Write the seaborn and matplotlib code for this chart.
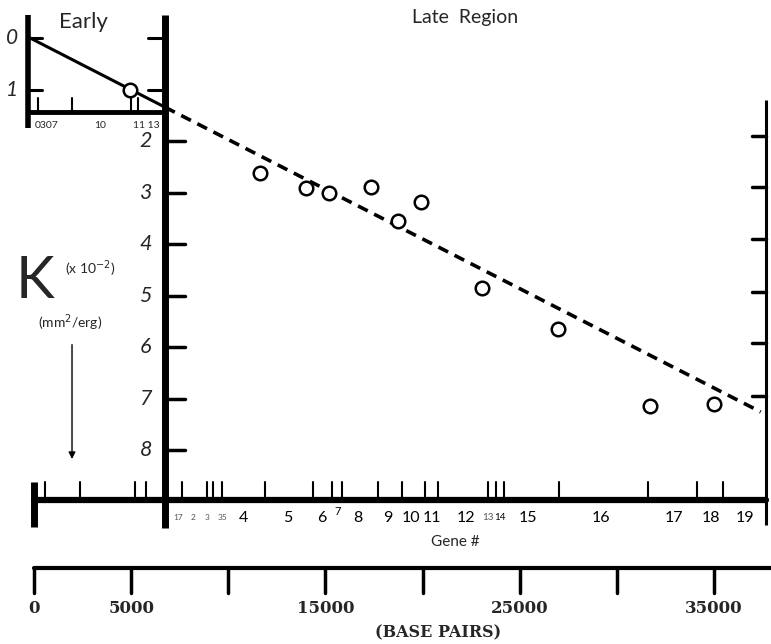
import numpy as np
import pandas as pd
import matplotlib
matplotlib.use("Agg")
import matplotlib.pyplot as plt
import seaborn as sns

sns.set_style("white")
plt.rcParams['font.family'] = ['Lato', 'DejaVu Sans']

# --- data (x in base pairs, y in K x 10^-2) ---
early_bp = [4940]
early_k = [1.0]
late_bp = [11630, 14000, 15180, 17340, 18730, 19920, 23060, 26970, 31700, 35000]
late_k = [2.62, 2.91, 3.01, 2.89, 3.55, 3.18, 4.85, 5.65, 7.15, 7.11]

# fitted line: solid through early region, dashed through late region
fit_early_bp = [-200, 6750]
fit_early_k = [0.0, 1.345]
fit_late_bp = [6750, 37400]
fit_late_k = [1.345, 7.26]

# gene map
gene_tick_bp = [566, 2367, 5198, 5764, 7617, 8904, 9213, 9676, 11889, 14359,
                15337, 15852, 17705, 18940, 20123, 20792, 23366, 23777, 24189,
                27020, 31600, 34122, 35461]
gene_labels = ['17', '2', '3', '35', '4', '5', '6', '7', '8', '9', '10', '11',
               '12', '13', '14', '15', '16', '17', '18', '19']
gene_label_bp = [7411, 8183, 8904, 9727, 10757, 13073, 14822, 15646, 16675,
                 18219, 19403, 20484, 22234, 23366, 23984, 25425, 29182,
                 32939, 34843, 36593]
# printed size of each gene label (the crowded ones are tiny in the original)
gene_label_size = [6, 6, 6, 6, 11.5, 11.5, 11.5, 8, 11.5, 11.5, 11.5, 11.5,
                   11.5, 7, 7, 11.5, 11.5, 11.5, 11.5, 11.5]

early_gene_tick_bp = [206, 1956, 4992, 5352]
early_gene_labels = ['0307', '10', '11 13']
early_gene_label_bp = [670, 3397, 5764]

main_k_ticks = [2, 3, 4, 5, 6, 7, 8]
early_k_ticks = [0, 1]
right_k_ticks = [1.9, 2.9, 3.9, 4.93, 5.92, 6.95]

bp_ticks = [0, 5000, 10000, 15000, 20000, 25000, 30000, 35000]
bp_labels = ['0', '5000', '', '15000', '', '25000', '', '35000']

# frame positions (data coordinates)
MAIN_X = 6750
EARLY_X = -300
RIGHT_X = 37670
BOX_BOTTOM = 1.437
GENE_Y = 8.97
BP_Y = 10.29

fig = plt.figure(figsize=(7.71, 6.44), dpi=100)
ax = fig.add_axes([0, 0, 1, 1])
ax.set_xlim(-1750, 37930)
ax.set_ylim(11.767, -0.738)
ax.axis('off')

k = 'black'

# main vertical axis and the early box
ax.plot([MAIN_X, MAIN_X], [-0.45, 9.52], color=k, lw=5, solid_capstyle='butt')
ax.plot([EARLY_X, EARLY_X], [-0.45, 1.75], color=k, lw=4, solid_capstyle='butt')
ax.plot([EARLY_X, MAIN_X], [BOX_BOTTOM, BOX_BOTTOM], color=k, lw=3.5)
for t in early_k_ticks:
    ax.plot([EARLY_X, 420], [t, t], color=k, lw=2.2)
    ax.plot([5870, MAIN_X], [t, t], color=k, lw=2.2)
    ax.text(-1150, t, str(t), ha='center', va='center', fontsize=15,
            style='italic')
for b in early_gene_tick_bp:
    ax.plot([b, b], [BOX_BOTTOM, 1.165], color=k, lw=1.5)
for b, lab in zip(early_gene_label_bp, early_gene_labels):
    ax.text(b, 1.7, lab, ha='center', va='center', fontsize=7.5)

# main K ticks
for t in main_k_ticks:
    ax.plot([MAIN_X, 7770], [t, t], color=k, lw=2.5)
    ax.text(5750, t, str(t), ha='center', va='center', fontsize=15.5,
            style='italic')

# right axis
ax.plot([RIGHT_X, RIGHT_X], [1.2, 9.46], color=k, lw=2.2, solid_capstyle='butt')
for t in right_k_ticks:
    ax.plot([36950, RIGHT_X], [t, t], color=k, lw=2.5)

# gene axis
ax.plot([0, RIGHT_X], [GENE_Y, GENE_Y], color=k, lw=4.5)
ax.plot([0, 0], [8.62, 9.5], color=k, lw=5, solid_capstyle='butt')
for b in gene_tick_bp:
    ax.plot([b, b], [GENE_Y, 8.62], color=k, lw=1.5)
for b, lab, fs in zip(gene_label_bp, gene_labels, gene_label_size):
    y = 9.2 if lab == '7' else 9.32
    col = '#555555' if fs < 7 or lab == '13' else k
    ax.text(b, y, lab, ha='center', va='center', fontsize=fs, color=col)
ax.text(21668, 9.79, 'Gene #', ha='center', va='center', fontsize=11)

# base pair axis
ax.plot([0, 37930], [BP_Y, BP_Y], color=k, lw=3)
for b, lab in zip(bp_ticks, bp_labels):
    ax.plot([b, b], [BP_Y, 10.78], color=k, lw=2.5)
    if lab:
        ax.text(b, 11.07, lab, ha='center', va='center', fontsize=12,
                family='DejaVu Serif', weight='bold')
ax.text(20790, 11.55, '(BASE PAIRS)', ha='center', va='center', fontsize=11.5,
        family='DejaVu Serif', weight='bold')

# fitted line
sns.lineplot(x=fit_early_bp, y=fit_early_k, ax=ax, color=k, lw=2.2)
sns.lineplot(x=fit_late_bp, y=fit_late_k, ax=ax, color=k, lw=2.6,
             linestyle=(0, (3, 2)))

# data points
pts = pd.DataFrame({'bp': early_bp + late_bp, 'k': early_k + late_k})
sns.scatterplot(data=pts, x='bp', y='k', ax=ax, marker='o', s=95,
                facecolor='white', edgecolor=k, linewidth=1.8, zorder=5)

# titles and y label
ax.text(2522, -0.31, 'Early', ha='center', va='center', fontsize=16)
ax.text(22182, -0.39, 'Late  Region', ha='center', va='center', fontsize=14)
ax.text(51, 4.72, 'K', ha='center', va='center', fontsize=42)
ax.text(2900, 4.47, '(x 10$^{-2}$)', ha='center', va='center', fontsize=10)
ax.text(1853, 5.53, '(mm$^{2}$/erg)', ha='center', va='center', fontsize=10)
ax.annotate('', xy=(1956, 8.23), xytext=(1956, 5.9),
            arrowprops=dict(arrowstyle='-|>', color=k, lw=1, mutation_scale=10))

fig.savefig('out.png', dpi=100)
plt.close(fig)
